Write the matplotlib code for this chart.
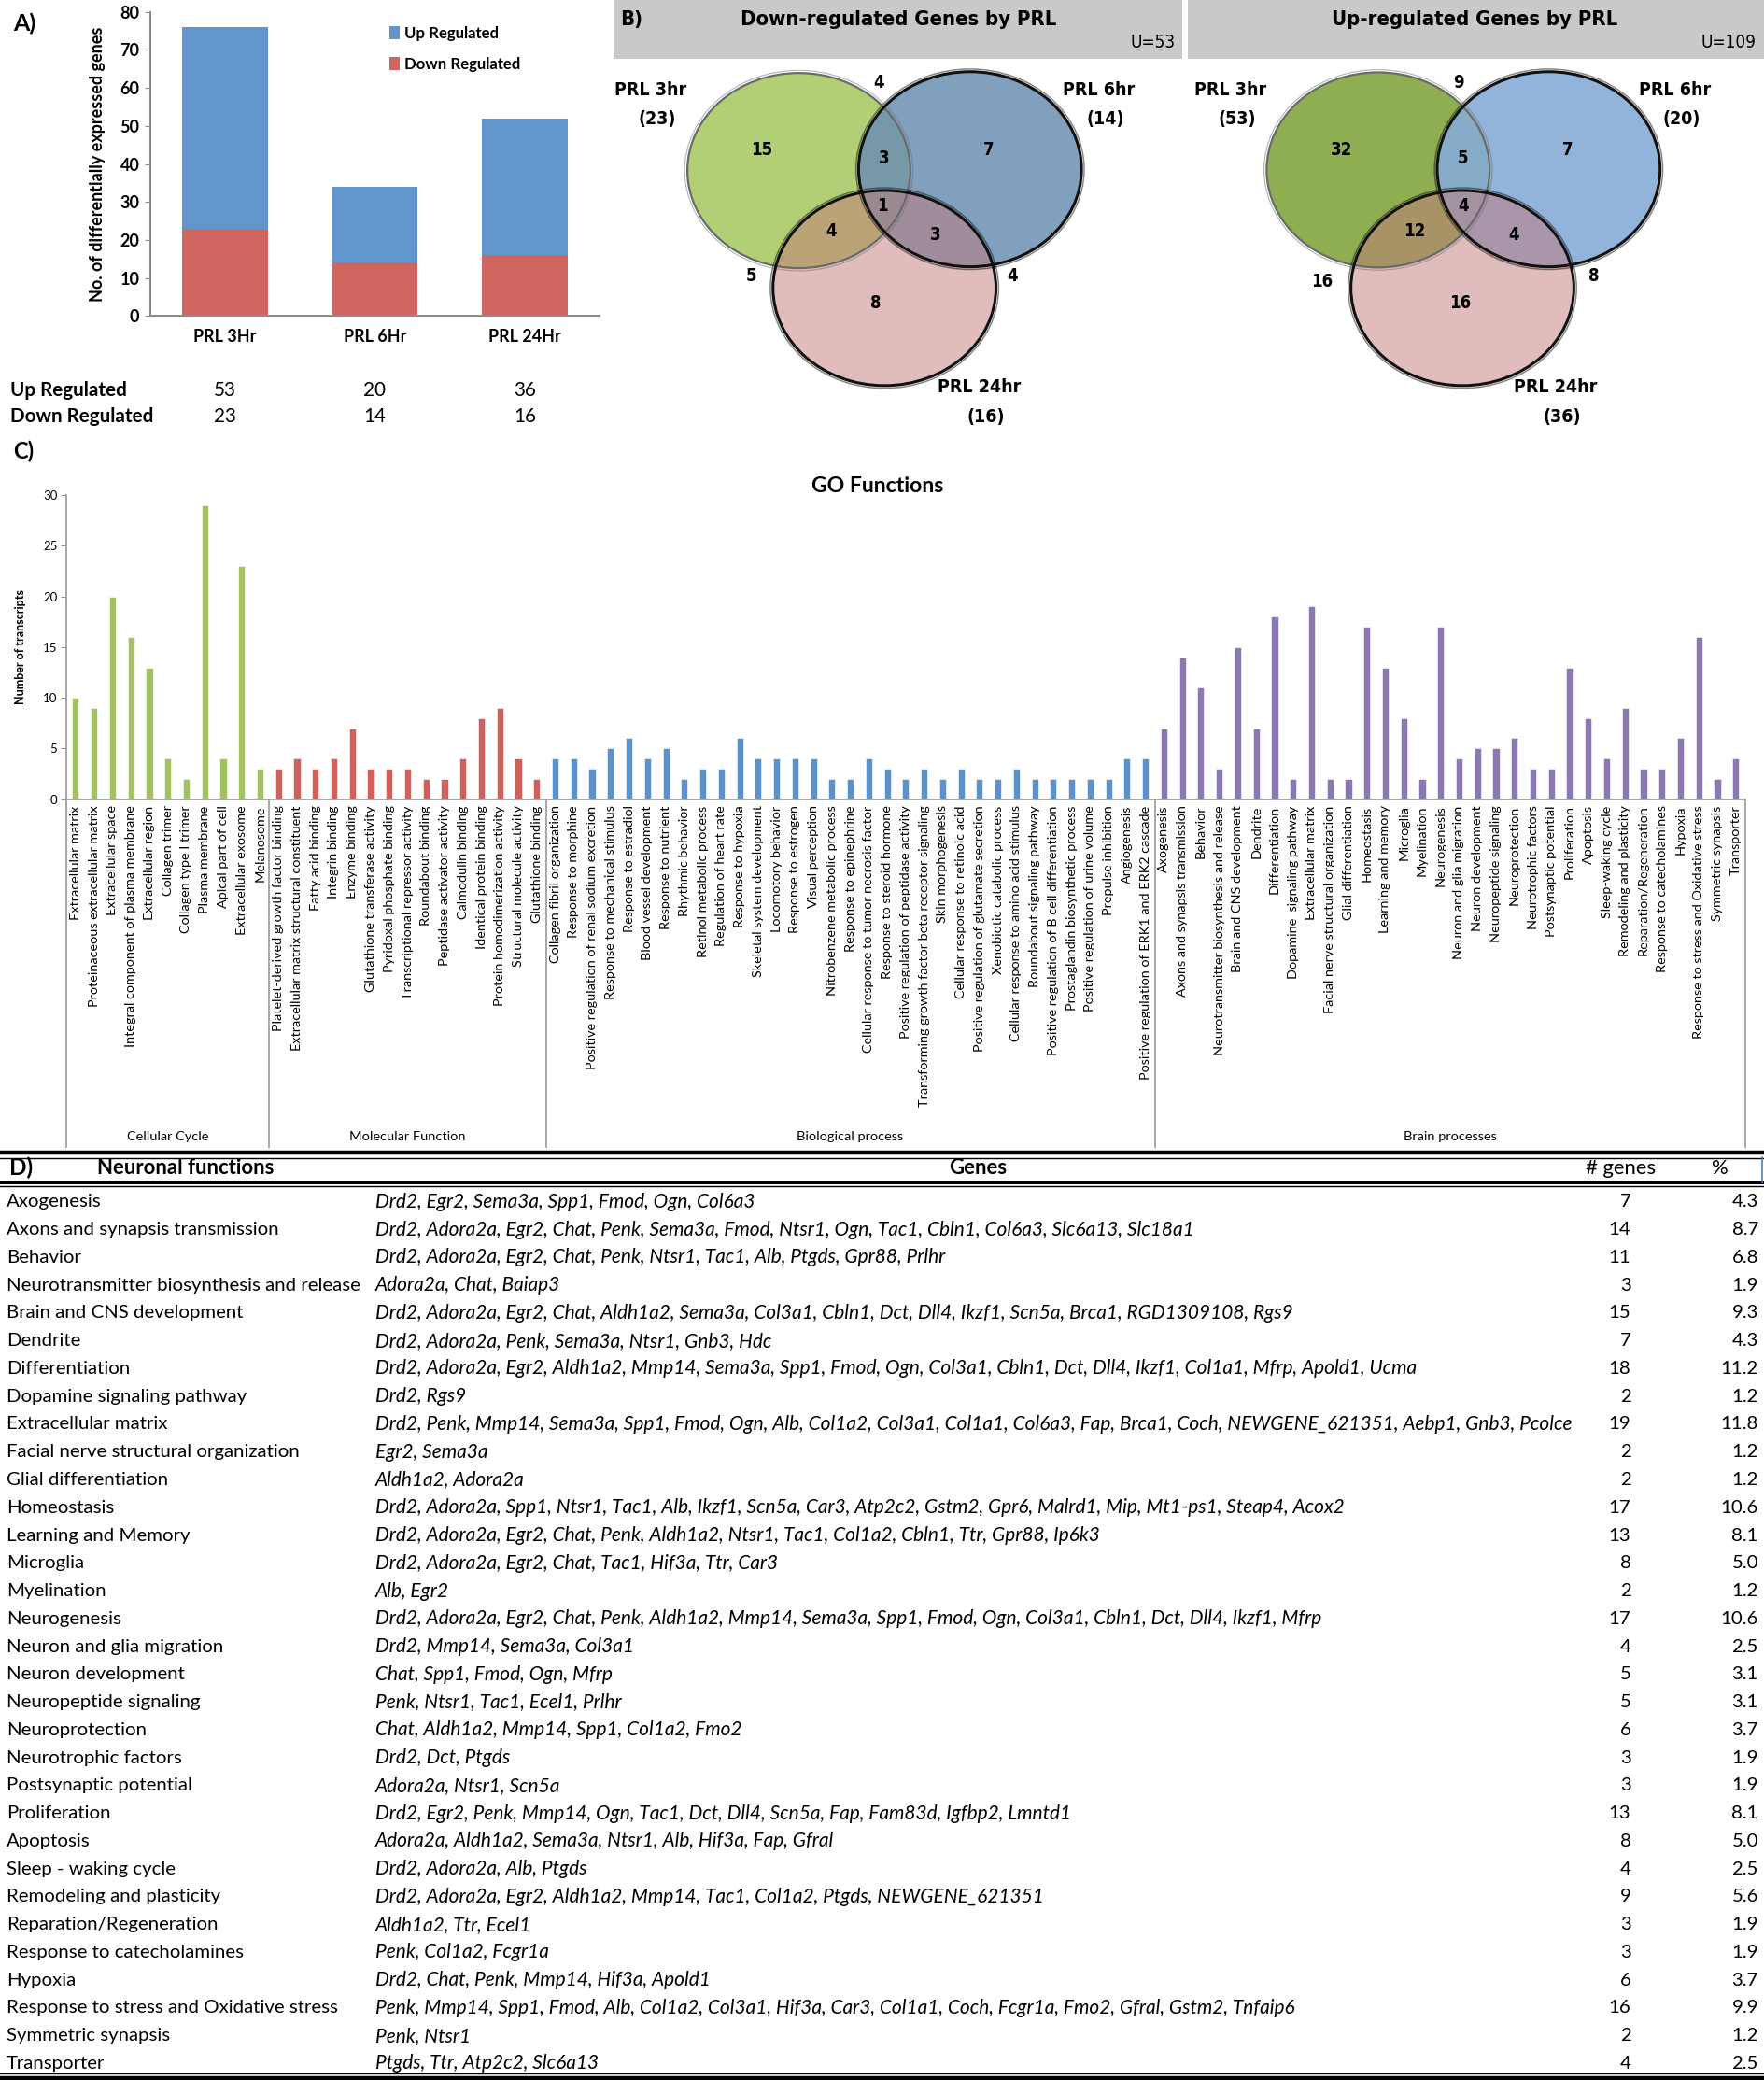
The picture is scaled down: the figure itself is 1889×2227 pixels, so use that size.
import matplotlib
matplotlib.use('Agg')
import matplotlib.pyplot as plt
from matplotlib.patches import Ellipse, Rectangle
from matplotlib import font_manager
from matplotlib.font_manager import FontProperties
import matplotlib.transforms as mtrans
import os

# ---------------- data ----------------
# Panel A
timepoints = ['PRL 3Hr', 'PRL 6Hr', 'PRL 24Hr']
up_regulated = [53, 20, 36]
down_regulated = [23, 14, 16]

# Panel B (regions: 3hr only, 6hr only, 24hr only, 3&6, 3&24, 6&24, all)
venn_set_names = ['PRL 3hr', 'PRL 6hr', 'PRL 24hr']
down_set_sizes = [23, 14, 16]
down_regions = [15, 7, 8, 3, 4, 3, 1]
down_outer = [4, 5, 4]
down_union = 53
up_set_sizes = [53, 20, 36]
up_regions = [32, 7, 16, 5, 12, 4, 4]
up_outer = [9, 16, 8]
up_union = 109

# Panel C
cellular_labels = ['Extracellular matrix', 'Proteinaceous extracellular matrix', 'Extracellular space',
                   'Integral component of plasma membrane', 'Extracellular region', 'Collagen trimer',
                   'Collagen type I trimer', 'Plasma membrane', 'Apical part of cell',
                   'Extracellular exosome', 'Melanosome']
cellular_values = [10, 9, 20, 16, 13, 4, 2, 29, 4, 23, 3]
molecular_labels = ['Platelet-derived growth factor binding', 'Extracellular matrix structural constituent',
                    'Fatty acid binding', 'Integrin binding', 'Enzyme binding',
                    'Glutathione transferase activity', 'Pyridoxal phosphate binding',
                    'Transcriptional repressor activity', 'Roundabout binding', 'Peptidase activator activity',
                    'Calmodulin binding', 'Identical protein binding', 'Protein homodimerization activity',
                    'Structural molecule activity', 'Glutathione binding']
molecular_values = [3, 4, 3, 4, 7, 3, 3, 3, 2, 2, 4, 8, 9, 4, 2]
biological_labels = ['Collagen fibril organization', 'Response to morphine',
                     'Positive regulation of renal sodium excretion', 'Response to mechanical stimulus',
                     'Response to estradiol', 'Blood vessel development', 'Response to nutrient',
                     'Rhythmic behavior', 'Retinol metabolic process', 'Regulation of heart rate',
                     'Response to hypoxia', 'Skeletal system development', 'Locomotory behavior',
                     'Response to estrogen', 'Visual perception', 'Nitrobenzene metabolic process',
                     'Response to epinephrine', 'Cellular response to tumor necrosis factor',
                     'Response to steroid hormone', 'Positive regulation of peptidase activity',
                     'Transforming growth factor beta receptor signaling', 'Skin morphogenesis',
                     'Cellular response to retinoic acid', 'Positive regulation of glutamate secretion',
                     'Xenobiotic catabolic process', 'Cellular response to amino acid stimulus',
                     'Roundabout signaling pathway', 'Positive regulation of B cell differentiation',
                     'Prostaglandin biosynthetic process', 'Positive regulation of urine volume',
                     'Prepulse inhibition', 'Angiogenesis', 'Positive regulation of ERK1 and ERK2 cascade']
biological_values = [4, 4, 3, 5, 6, 4, 5, 2, 3, 3, 6, 4, 4, 4, 4, 2, 2, 4, 3, 2, 3, 2, 3, 2, 2, 3,
                     2, 2, 2, 2, 2, 4, 4]
brain_labels = ['Axogenesis', 'Axons and synapsis transmission', 'Behavior',
                'Neurotransmitter biosynthesis and release', 'Brain and CNS development', 'Dendrite',
                'Differentiation', 'Dopamine  signaling pathway', 'Extracellular matrix',
                'Facial nerve structural organization', 'Glial differentiation', 'Homeostasis',
                'Learning and memory', 'Microglia', 'Myelination', 'Neurogenesis',
                'Neuron and glia migration', 'Neuron development', 'Neuropeptide signaling',
                'Neuroprotection', 'Neurotrophic factors', 'Postsynaptic potential', 'Proliferation',
                'Apoptosis', 'Sleep-waking cycle', 'Remodeling and plasticity', 'Reparation/Regeneration',
                'Response to catecholamines', 'Hypoxia', 'Response to stress and Oxidative stress',
                'Symmetric synapsis', 'Transporter']
brain_values = [7, 14, 11, 3, 15, 7, 18, 2, 19, 2, 2, 17, 13, 8, 2, 17, 4, 5, 5, 6, 3, 3, 13, 8, 4,
                9, 3, 3, 6, 16, 2, 4]
group_names = ['Cellular Cycle', 'Molecular Function', 'Biological process', 'Brain processes']

# Panel D
func_names = ['Axogenesis', 'Axons and synapsis transmission', 'Behavior',
              'Neurotransmitter biosynthesis and release', 'Brain and CNS development', 'Dendrite',
              'Differentiation', 'Dopamine signaling pathway', 'Extracellular matrix',
              'Facial nerve structural organization', 'Glial differentiation', 'Homeostasis',
              'Learning and Memory', 'Microglia', 'Myelination', 'Neurogenesis', 'Neuron and glia migration',
              'Neuron development', 'Neuropeptide signaling', 'Neuroprotection', 'Neurotrophic factors',
              'Postsynaptic potential', 'Proliferation', 'Apoptosis', 'Sleep - waking cycle',
              'Remodeling and plasticity', 'Reparation/Regeneration', 'Response to catecholamines',
              'Hypoxia', 'Response to stress and Oxidative stress', 'Symmetric synapsis', 'Transporter']
func_genes = [
    'Drd2, Egr2, Sema3a, Spp1, Fmod, Ogn, Col6a3',
    'Drd2, Adora2a, Egr2, Chat, Penk, Sema3a, Fmod, Ntsr1, Ogn, Tac1, Cbln1, Col6a3, Slc6a13, Slc18a1',
    'Drd2, Adora2a, Egr2, Chat, Penk, Ntsr1, Tac1, Alb, Ptgds, Gpr88, Prlhr',
    'Adora2a, Chat, Baiap3',
    'Drd2, Adora2a, Egr2, Chat, Aldh1a2, Sema3a, Col3a1, Cbln1, Dct, Dll4, Ikzf1, Scn5a, Brca1, RGD1309108, Rgs9',
    'Drd2, Adora2a, Penk, Sema3a, Ntsr1, Gnb3, Hdc',
    'Drd2, Adora2a, Egr2, Aldh1a2, Mmp14, Sema3a, Spp1, Fmod, Ogn, Col3a1, Cbln1, Dct, Dll4, Ikzf1, Col1a1, Mfrp, Apold1, Ucma',
    'Drd2, Rgs9',
    'Drd2, Penk, Mmp14, Sema3a, Spp1, Fmod, Ogn, Alb, Col1a2, Col3a1, Col1a1, Col6a3, Fap, Brca1, Coch, NEWGENE_621351, Aebp1, Gnb3, Pcolce',
    'Egr2, Sema3a',
    'Aldh1a2, Adora2a',
    'Drd2, Adora2a, Spp1, Ntsr1, Tac1, Alb, Ikzf1, Scn5a, Car3, Atp2c2, Gstm2, Gpr6, Malrd1, Mip, Mt1-ps1, Steap4, Acox2',
    'Drd2, Adora2a, Egr2, Chat, Penk, Aldh1a2, Ntsr1, Tac1, Col1a2, Cbln1, Ttr, Gpr88, Ip6k3',
    'Drd2, Adora2a, Egr2, Chat, Tac1, Hif3a, Ttr, Car3',
    'Alb, Egr2',
    'Drd2, Adora2a, Egr2, Chat, Penk, Aldh1a2, Mmp14, Sema3a, Spp1, Fmod, Ogn, Col3a1, Cbln1, Dct, Dll4, Ikzf1, Mfrp',
    'Drd2, Mmp14, Sema3a, Col3a1',
    'Chat, Spp1, Fmod, Ogn, Mfrp',
    'Penk, Ntsr1, Tac1, Ecel1, Prlhr',
    'Chat, Aldh1a2, Mmp14, Spp1, Col1a2, Fmo2',
    'Drd2, Dct, Ptgds',
    'Adora2a, Ntsr1, Scn5a',
    'Drd2, Egr2, Penk, Mmp14, Ogn, Tac1, Dct, Dll4, Scn5a, Fap, Fam83d, Igfbp2, Lmntd1',
    'Adora2a, Aldh1a2, Sema3a, Ntsr1, Alb, Hif3a, Fap, Gfral',
    'Drd2, Adora2a, Alb, Ptgds',
    'Drd2, Adora2a, Egr2, Aldh1a2, Mmp14, Tac1, Col1a2, Ptgds, NEWGENE_621351',
    'Aldh1a2, Ttr, Ecel1',
    'Penk, Col1a2, Fcgr1a',
    'Drd2, Chat, Penk, Mmp14, Hif3a, Apold1',
    'Penk, Mmp14, Spp1, Fmod, Alb, Col1a2, Col3a1, Hif3a, Car3, Col1a1, Coch, Fcgr1a, Fmo2, Gfral, Gstm2, Tnfaip6',
    'Penk, Ntsr1',
    'Ptgds, Ttr, Atp2c2, Slc6a13']
func_ngenes = [7, 14, 11, 3, 15, 7, 18, 2, 19, 2, 2, 17, 13, 8, 2, 17, 4, 5, 5, 6, 3, 3, 13, 8, 4, 9,
               3, 3, 6, 16, 2, 4]
func_pct = ['4.3', '8.7', '6.8', '1.9', '9.3', '4.3', '11.2', '1.2', '11.8', '1.2', '1.2', '10.6', '8.1',
            '5.0', '1.2', '10.6', '2.5', '3.1', '3.1', '3.7', '1.9', '1.9', '8.1', '5.0', '2.5', '5.6',
            '1.9', '1.9', '3.7', '9.9', '1.2', '2.5']

# ---------------- fonts / layout ----------------
avail = {f.name for f in font_manager.fontManager.ttflist}


def pick(*names):
    for n in names:
        if n in avail:
            return n
    return 'DejaVu Sans'


MAIN = pick('Lato', 'Open Sans', 'Liberation Sans')
plt.rcParams['font.family'] = [MAIN, 'DejaVu Sans']


def narrow_props(bold):
    files = [f.fname for f in font_manager.fontManager.ttflist]
    if bold:
        keys = ['LiberationSansNarrow-Bold.', 'DejaVuSansCondensed-Bold.', 'RobotoCondensed-Bold.']
    else:
        keys = ['LiberationSansNarrow-Regular.', 'DejaVuSansCondensed.', 'RobotoCondensed-Regular.']
    for k in keys:
        for fn in files:
            if os.path.basename(fn).startswith(k):
                return FontProperties(fname=fn)
    return FontProperties(family=MAIN, weight='bold' if bold else 'normal')


NB = narrow_props(True)
NR = narrow_props(False)

W, H = 1330.0, 1567.0
PX = 1890.0 / W
fig = plt.figure(figsize=(18.9, 22.27), dpi=100)
renderer = fig.canvas.get_renderer()


def rect(x0, y0, x1, y1):
    return [x0 / W, 1 - y1 / H, (x1 - x0) / W, (y1 - y0) / H]


ov = fig.add_axes([0, 0, 1, 1])
ov.set_xlim(0, W)
ov.set_ylim(H, 0)
ov.axis('off')
ov.patch.set_alpha(0)


def fit(text, target, fp=None, **kw):
    """font size so that text spans `target` layout units"""
    if fp is not None:
        fp = fp.copy()
        fp.set_size(10)
        t = ov.text(0, 0, text, fontproperties=fp, **kw)
    else:
        t = ov.text(0, 0, text, fontsize=10, **kw)
    w = t.get_window_extent(renderer).width
    t.remove()
    return 10.0 * target * PX / w


def fpsize(fp, s):
    f = fp.copy()
    f.set_size(s)
    return f


GRAY = '#8c8c8c'

# ---------------- Panel A ----------------
sA_tab = fit('Down Regulated', 108, fontweight='bold')
sA_ylab = fit('No. of differentially expressed genes', 208, fontweight='bold')
sA_xt = fit('PRL 3Hr', 47, fontweight='bold')
sA_leg = fit('Down Regulated', 88, fontweight='bold')

axA = fig.add_axes(rect(113, 9, 452, 238))
xa = list(range(len(timepoints)))
bd = axA.bar(xa, down_regulated, width=0.57, color='#cf6560', label='Down Regulated', zorder=2)
bu = axA.bar(xa, up_regulated, width=0.57, bottom=down_regulated, color='#6096cb',
             label='Up Regulated', zorder=2)
axA.set_xlim(-0.5, len(timepoints) - 0.5)
axA.set_ylim(0, 80)
axA.set_yticks(range(0, 81, 10))
axA.set_xticks(xa)
axA.set_xticklabels(timepoints, fontsize=sA_xt, fontweight='bold')
axA.tick_params(axis='x', length=0, pad=10)
axA.tick_params(axis='y', length=4, color=GRAY, labelsize=13, pad=4)
for t in axA.get_yticklabels():
    t.set_fontweight('bold')
for s in ['top', 'right']:
    axA.spines[s].set_visible(False)
for s in ['left', 'bottom']:
    axA.spines[s].set_color(GRAY)
    axA.spines[s].set_linewidth(1.5)
axA.set_ylabel('No. of differentially expressed genes', fontsize=sA_ylab, fontweight='bold', labelpad=11)
axA.legend([bu, bd], ['Up Regulated', 'Down Regulated'], loc='upper left',
           bbox_to_anchor=(0.50, 1.0), frameon=False, handlelength=0.7, handleheight=0.9,
           handletextpad=0.3, labelspacing=1.0, prop={'weight': 'bold', 'size': sA_leg})
ov.text(10, 18, 'A)', fontsize=18, fontweight='bold', va='center', ha='left')
bar_cx = [113 + (i + 0.5) * (452 - 113) / len(timepoints) for i in xa]
ov.text(8, 294, 'Up Regulated', fontsize=sA_tab, fontweight='bold', va='center')
ov.text(8, 314, 'Down Regulated', fontsize=sA_tab, fontweight='bold', va='center')
for i in xa:
    ov.text(bar_cx[i], 294, str(up_regulated[i]), fontsize=sA_tab, ha='center', va='center')
    ov.text(bar_cx[i], 314, str(down_regulated[i]), fontsize=sA_tab, ha='center', va='center')

# ---------------- Panel B ----------------
sB_head = fit('Down-regulated Genes by PRL', 237, fp=NB)
sB_lab = fit('PRL 3hr', 54, fp=NB)
sB_U = fit('U=53', 34, fp=NR)
ov.add_patch(Rectangle((462, 0), 891 - 462, 44, facecolor='#c9c9c9', edgecolor='none'))
ov.add_patch(Rectangle((895, 0), 1330 - 895, 44, facecolor='#c9c9c9', edgecolor='none'))
ov.text(467, 15, 'B)', fontproperties=fpsize(NB, sB_head), va='center')
ov.text(677, 15, 'Down-regulated Genes by PRL', fontproperties=fpsize(NB, sB_head),
        ha='center', va='center')
ov.text(1111, 15, 'Up-regulated Genes by PRL', fontproperties=fpsize(NB, sB_head),
        ha='center', va='center')
ov.text(886, 32, 'U=%d' % down_union, fontproperties=fpsize(NR, sB_U), ha='right', va='center')
ov.text(1323, 32, 'U=%d' % up_union, fontproperties=fpsize(NR, sB_U), ha='right', va='center')

EW, EH = 168, 147


def draw_venn(centers, fills, alphas, edges, lws, regions, reg_pos, outer, outer_pos,
              sizes, lab_pos):
    fl = fpsize(NB, sB_lab)
    fn = fpsize(NB, sB_lab * 0.95)
    for (c, fc, a) in zip(centers, fills, alphas):
        ov.add_patch(Ellipse(c, EW, EH, facecolor=fc, alpha=a, edgecolor='none', zorder=2))
    for (c, ec, lw) in zip(centers, edges, lws):
        ov.add_patch(Ellipse(c, EW, EH, facecolor='none', edgecolor=ec, lw=lw, zorder=3))
        ov.add_patch(Ellipse(c, EW + 4, EH + 4, facecolor='none', edgecolor=ec, lw=lw * 0.5,
                             alpha=0.5, zorder=3))
    for v, (x, y) in zip(regions, reg_pos):
        ov.text(x, y, str(v), fontproperties=fn, ha='center', va='center', zorder=5)
    for v, (x, y) in zip(outer, outer_pos):
        ov.text(x, y, str(v), fontproperties=fn, ha='center', va='center', zorder=5)
    for name, n, (x, y) in zip(venn_set_names, sizes, lab_pos):
        ov.text(x, y, name, fontproperties=fl, ha='center', va='center', zorder=5)
        ov.text(x + 5, y + 22, '(%d)' % n, fontproperties=fl, ha='center', va='center', zorder=5)


draw_venn([(602, 128.5), (731, 127.5), (666.5, 217)],
          ['#b3cf75', '#6a90b3', '#c27a7a'], [1.0, 0.85, 0.5],
          ['#6a6a6a', '#111111', '#111111'], [1.6, 2.2, 2.2],
          down_regions,
          [(574, 113), (745, 113), (660, 228), (666, 119), (626, 174), (705, 177), (665, 155)],
          down_outer, [(662, 62), (566, 208), (763, 208)],
          down_set_sizes, [(490, 68), (828, 68), (738, 292)])
draw_venn([(1038.5, 128), (1167, 127.5), (1102, 217)],
          ['#8fae52', '#86acd6', '#c27a7a'], [1.0, 0.9, 0.5],
          ['#6a6a6a', '#111111', '#111111'], [1.6, 2.2, 2.2],
          up_regions,
          [(1011, 113), (1181, 113), (1100, 228), (1102, 119), (1066, 174), (1141, 177), (1103, 155)],
          up_outer, [(1099, 62), (996, 212), (1201, 208)],
          up_set_sizes, [(927, 68), (1262, 68), (1172, 292)])

# ---------------- Panel C ----------------
sC_lab = fit('Positive regulation of ERK1 and ERK2 cascade', 205)
sC_grp = fit('Molecular Function', 87)
sC_title = fit('GO Functions', 100, fontweight='bold')
groups = [(cellular_labels, cellular_values, '#a2c163'),
          (molecular_labels, molecular_values, '#d0605c'),
          (biological_labels, biological_values, '#5a92c9'),
          (brain_labels, brain_values, '#8c78b1')]
axC = fig.add_axes(rect(50, 373, 1315, 602))
all_labels, pos, bounds = [], [], [0]
k = 0
for labels, vals, col in groups:
    xs = [k + i + 0.5 for i in range(len(vals))]
    axC.bar(xs, vals, width=0.36, color=col, edgecolor='white', linewidth=0.4, zorder=2)
    all_labels += labels
    pos += xs
    k += len(vals)
    bounds.append(k)
axC.set_xlim(0, k)
axC.set_ylim(0, 30)
axC.set_yticks(range(0, 31, 5))
axC.set_xticks(pos)
axC.set_xticklabels(all_labels, rotation=90, fontsize=sC_lab, va='top', ha='center')
axC.tick_params(axis='x', length=0, pad=5)
axC.tick_params(axis='y', length=4, color=GRAY, labelsize=9.5, pad=3)
for s in ['top', 'right']:
    axC.spines[s].set_visible(False)
for s in ['left', 'bottom']:
    axC.spines[s].set_color('#a0a0a0')
    axC.spines[s].set_linewidth(1.3)
axC.set_ylabel('Number of transcripts', fontsize=9, fontweight='bold', labelpad=13)
tr = mtrans.blended_transform_factory(axC.transData, axC.transAxes)
ybot = -(864 - 602) / (602 - 373)
ylab = -(856 - 602) / (602 - 373)
for b in bounds:
    axC.plot([b, b], [0, ybot], transform=tr, color='#a0a0a0', lw=1.3, clip_on=False)
for gi, name in enumerate(group_names):
    axC.text((bounds[gi] + bounds[gi + 1]) / 2, ylab, name, transform=tr, fontsize=sC_grp,
             ha='center', va='center')
ov.text(661, 366, 'GO Functions', fontsize=sC_title, fontweight='bold', ha='center', va='center')
ov.text(10, 340, 'C)', fontsize=17, fontweight='bold', ha='left', va='center')

# ---------------- Panel D ----------------
sD_name = fit('Neurotransmitter biosynthesis and release', 267)
sD_gene = fit(func_genes[8], 900, style='italic')
sD_head = fit('Neuronal functions', 134, fontweight='bold')
sD_ng = fit('# genes', 53)
ov.plot([0, 1330], [868.5, 868.5], color='black', lw=3.2)
ov.plot([0, 1330], [872.3, 872.3], color='black', lw=1.0)
ov.plot([0, 1330], [890.5, 890.5], color='black', lw=2.2)
ov.plot([0, 1330], [893.6, 893.6], color='black', lw=1.0)
ov.plot([0, 1330], [1562.0, 1562.0], color='black', lw=1.0)
ov.plot([0, 1330], [1565.3, 1565.3], color='black', lw=3.2)
ov.plot([1328, 1328], [872, 891], color='#4f81bd', lw=1.2)
ov.text(7, 880, 'D)', fontsize=sD_head * 1.1, fontweight='bold', va='center')
ov.text(73, 880, 'Neuronal functions', fontsize=sD_head, fontweight='bold', va='center')
ov.text(737, 880, 'Genes', fontsize=sD_head, fontweight='bold', va='center', ha='center')
ov.text(1221, 880, '# genes', fontsize=sD_ng, va='center', ha='center')
ov.text(1296, 880, '%', fontsize=sD_ng, va='center', ha='center')
y0, dy = 905.5, 20.94
for i, (nm, gn, ng, pc) in enumerate(zip(func_names, func_genes, func_ngenes, func_pct)):
    y = y0 + i * dy
    ov.text(5, y, nm, fontsize=sD_name, va='center', ha='left')
    ov.text(283, y, gn, fontsize=sD_gene, style='italic', va='center', ha='left')
    ov.text(1229, y, str(ng), fontsize=sD_name, va='center', ha='right')
    ov.text(1325, y, pc, fontsize=sD_name, va='center', ha='right')

fig.savefig('out.png', dpi=100)
